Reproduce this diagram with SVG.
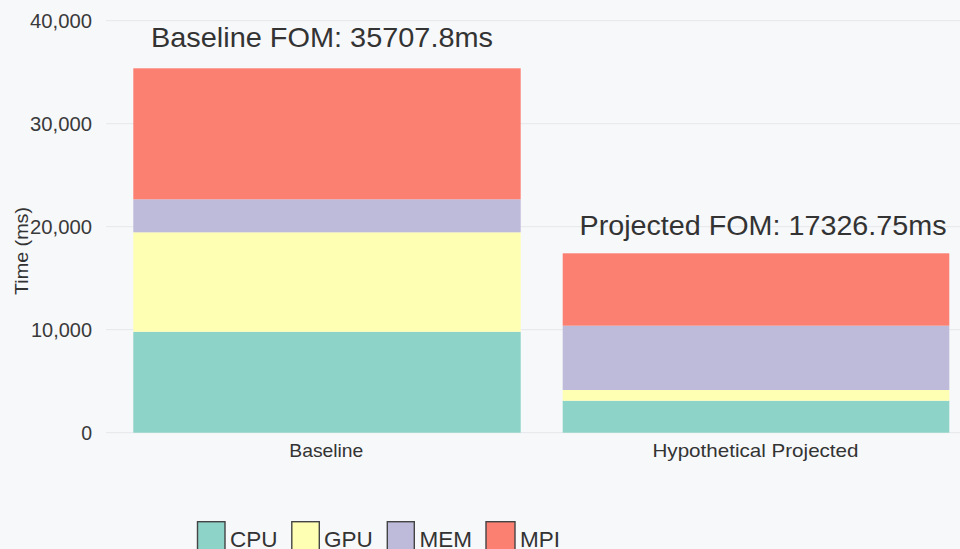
<svg xmlns="http://www.w3.org/2000/svg" width="960" height="549" viewBox="0 0 960 549">
  <style>
    .bg { fill: #f7f8fa; }
    .grid { stroke: #e6e7ea; stroke-width: 1; fill: none; }
    .tick { font-family: "Liberation Sans", Arial, sans-serif; font-size: 19.5px; fill: #3a3a3a; text-anchor: end; }
    .cat { font-family: "Liberation Sans", Arial, sans-serif; font-size: 19px; fill: #333333; text-anchor: middle; }
    .axt { font-family: "Liberation Sans", Arial, sans-serif; font-size: 19px; fill: #333333; text-anchor: middle; }
    .ttl { font-family: "Liberation Sans", Arial, sans-serif; font-size: 27.5px; fill: #333333; }
    .leg { font-family: "Liberation Sans", Arial, sans-serif; font-size: 22.5px; fill: #333333; }
    .lbox { stroke: #444444; stroke-width: 1.4; }
    .cpu { fill: #8dd3c7; }
    .gpu { fill: #ffffb3; }
    .mem { fill: #bebada; }
    .mpi { fill: #fb8072; }
  </style>
  <rect class="bg" x="0" y="0" width="960" height="549"/>

  <g id="grid">
    <line class="grid" x1="106" y1="20.7" x2="960" y2="20.7"/>
    <line class="grid" x1="106" y1="123.7" x2="960" y2="123.7"/>
    <line class="grid" x1="106" y1="226.7" x2="960" y2="226.7"/>
    <line class="grid" x1="106" y1="329.7" x2="960" y2="329.7"/>
    <line class="grid" x1="106" y1="432.7" x2="960" y2="432.7"/>
  </g>

  <g id="y-axis">
    <text class="tick" x="92" y="27.7" textLength="62" lengthAdjust="spacingAndGlyphs">40,000</text>
    <text class="tick" x="92" y="130.7" textLength="62" lengthAdjust="spacingAndGlyphs">30,000</text>
    <text class="tick" x="92" y="233.7" textLength="62" lengthAdjust="spacingAndGlyphs">20,000</text>
    <text class="tick" x="92" y="336.7" textLength="61" lengthAdjust="spacingAndGlyphs">10,000</text>
    <text class="tick" x="92" y="439.7">0</text>
    <text class="axt" transform="translate(27.5,251) rotate(-90)" textLength="88" lengthAdjust="spacingAndGlyphs">Time (ms)</text>
  </g>

  <g id="bar-baseline">
    <rect class="cpu" x="133.3" y="331.7" width="387.4" height="101"/>
    <rect class="gpu" x="133.3" y="232.3" width="387.4" height="99.4"/>
    <rect class="mem" x="133.3" y="199.3" width="387.4" height="33"/>
    <rect class="mpi" x="133.3" y="68.3" width="387.4" height="131"/>
  </g>

  <g id="bar-projected">
    <rect class="cpu" x="562.7" y="400.7" width="386.6" height="32"/>
    <rect class="gpu" x="562.7" y="390" width="386.6" height="10.7"/>
    <rect class="mem" x="562.7" y="325.7" width="386.6" height="64.3"/>
    <rect class="mpi" x="562.7" y="253.3" width="386.6" height="72.4"/>
  </g>

  <g id="x-axis">
    <text class="cat" x="326.3" y="456.5" textLength="74" lengthAdjust="spacingAndGlyphs">Baseline</text>
    <text class="cat" x="755.5" y="456.5" textLength="206" lengthAdjust="spacingAndGlyphs">Hypothetical Projected</text>
  </g>

  <g id="titles">
    <text id="title-baseline" class="ttl" x="151" y="46.5" textLength="342" lengthAdjust="spacingAndGlyphs">Baseline FOM: 35707.8ms</text>
    <text id="title-projected" class="ttl" x="579.5" y="235" textLength="367" lengthAdjust="spacingAndGlyphs">Projected FOM: 17326.75ms</text>
  </g>

  <g id="legend">
    <g id="legend-cpu">
      <rect class="lbox cpu" x="197.5" y="521.7" width="27.5" height="30"/>
      <text class="leg" x="230" y="546.5">CPU</text>
    </g>
    <g id="legend-gpu">
      <rect class="lbox gpu" x="291.8" y="521.7" width="27.5" height="30"/>
      <text class="leg" x="324" y="546.5">GPU</text>
    </g>
    <g id="legend-mem">
      <rect class="lbox mem" x="387.3" y="521.7" width="27" height="30"/>
      <text class="leg" x="419.5" y="546.5">MEM</text>
    </g>
    <g id="legend-mpi">
      <rect class="lbox mpi" x="486" y="521.7" width="29" height="30"/>
      <text class="leg" x="520" y="546.5">MPI</text>
    </g>
  </g>
</svg>
